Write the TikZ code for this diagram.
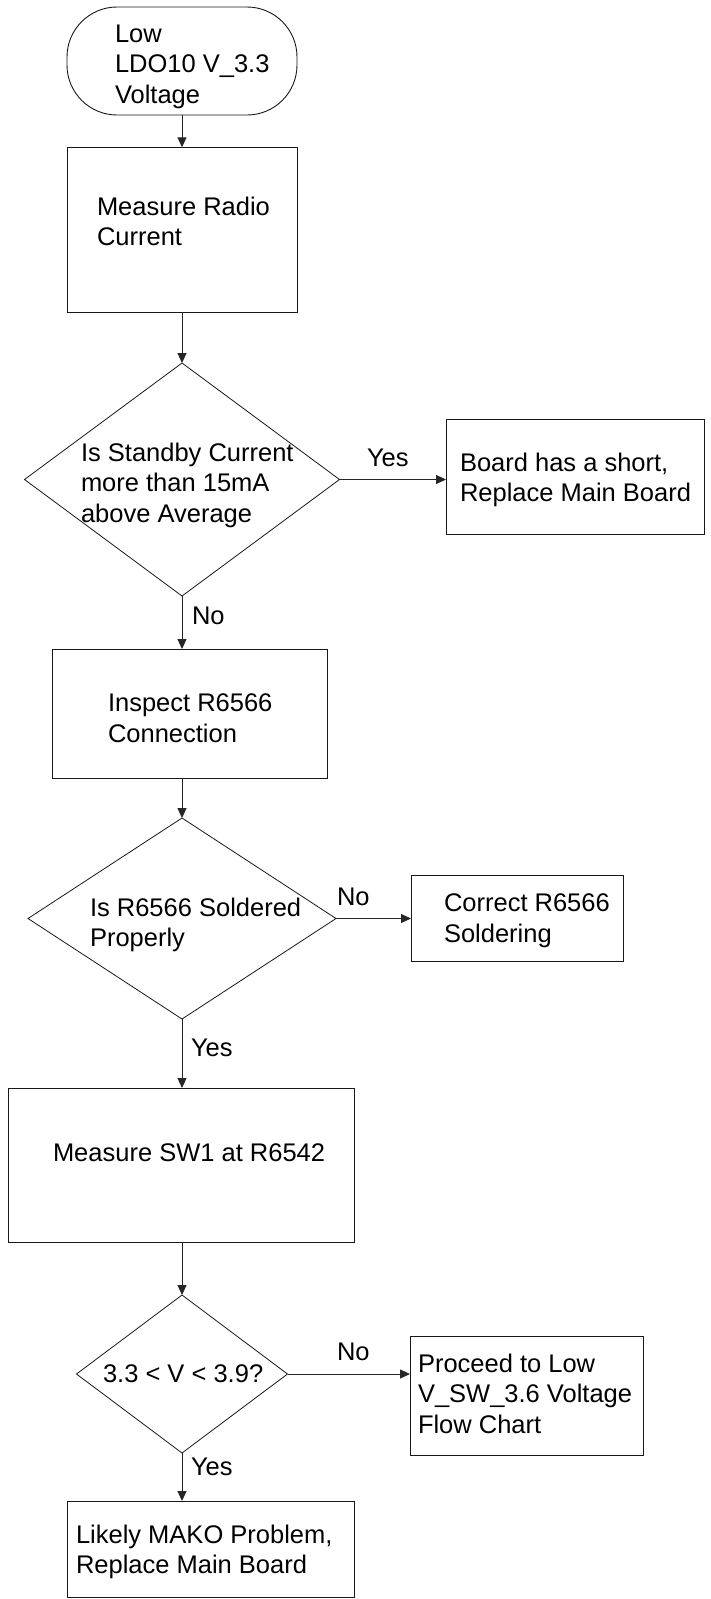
\documentclass[tikz,border=0pt]{standalone}
\usepackage{fontspec}
\setmainfont{Liberation Sans}
\usetikzlibrary{shapes.geometric,arrows.meta}
\newcommand{\fcfont}{\fontsize{25.5pt}{30.5pt}\selectfont}
\begin{document}
\begin{tikzpicture}[x=1pt,y=-1pt,
  box/.style={draw=black!90, line width=1pt, rectangle, inner sep=0pt, outer sep=0pt},
  term/.style={draw=black!90, line width=0.9pt, rectangle, rounded corners=50pt, inner sep=0pt, outer sep=0pt},
  dec/.style={draw=black!90, line width=0.8pt, diamond, inner sep=0pt, outer sep=0pt},
  txt/.style={anchor=north west, inner sep=0pt, outer sep=0pt, align=left, font=\fcfont},
  lbl/.style={anchor=north west, inner sep=0pt, outer sep=0pt, font=\fcfont},
  arr/.style={draw=black!85, line width=0.9pt, -{Triangle[length=10pt,width=9pt]}}]
\fill[white] (0,0) rectangle (710,1599);
\useasboundingbox (0,0) rectangle (710,1599);

% shapes
\node[term, minimum width=230pt, minimum height=108pt] (start) at (182,61) {};
\node[box, minimum width=230pt, minimum height=165pt] (b1) at (182,229.8) {};
\node[dec, minimum width=315pt, minimum height=233pt] (d1) at (182,479.5) {};
\node[box, minimum width=258pt, minimum height=115pt] (byes) at (575,476.5) {};
\node[box, minimum width=275pt, minimum height=129pt] (b2) at (189.5,713.5) {};
\node[dec, minimum width=308pt, minimum height=201pt] (d2) at (182,918.5) {};
\node[box, minimum width=212pt, minimum height=86pt] (bcor) at (517,918) {};
\node[box, minimum width=346pt, minimum height=154pt] (b3) at (181,1165) {};
\node[dec, minimum width=211pt, minimum height=158pt] (d3) at (182,1374) {};
\node[box, minimum width=233pt, minimum height=119pt] (bpro) at (526.5,1395.5) {};
\node[box, minimum width=287pt, minimum height=96pt] (bbot) at (210.5,1549) {};

% texts
\node[txt] (tstart) at (115,24.7) {Low\\LDO10 V\_3.3\\Voltage};
\node[txt] (tb1) at (97,197) {Measure Radio\\Current};
\node[txt] (td1) at (81,442.7) {Is Standby Current\\more than 15mA\\above Average};
\node[txt] (tbyes) at (460,452.7) {Board has a short,\\Replace Main Board};
\node[txt] (tb2) at (108,693.7) {Inspect R6566\\Connection};
\node[txt] (td2) at (90,897.7) {Is R6566 Soldered\\Properly};
\node[txt] (tbcor) at (444,893.7) {Correct R6566\\Soldering};
\node[txt] (tb3) at (53,1143.7) {Measure SW1 at R6542};
\node[txt] (td3) at (103,1364.7) {3.3 < V < 3.9?};
\node[txt] (tbpro) at (418,1353.7) {Proceed to Low\\V\_SW\_3.6 Voltage\\Flow Chart};
\node[txt] (tbbot) at (76,1524.7) {Likely MAKO Problem,\\Replace Main Board};

% labels
\node[lbl] (lyes1) at (367,448.7) {Yes};
\node[lbl] (lno1) at (192,606.7) {No};
\node[lbl] (lno2) at (337,887.7) {No};
\node[lbl] (lyes2) at (191,1038.7) {Yes};
\node[lbl] (lno3) at (337,1342.7) {No};
\node[lbl] (lyes3) at (191,1457.7) {Yes};

% connectors
\draw[arr] (start.south) -- (b1.north);
\draw[arr] (b1.south) -- (d1.north);
\draw[arr] (d1.east) -- (d1.east -| byes.west);
\draw[arr] (d1.south) -- (d1.south |- b2.north);
\draw[arr] (d2.north |- b2.south) -- (d2.north);
\draw[arr] (d2.east) -- (d2.east -| bcor.west);
\draw[arr] (d2.south) -- (d2.south |- b3.north);
\draw[arr] (d3.north |- b3.south) -- (d3.north);
\draw[arr] (d3.east) -- (d3.east -| bpro.west);
\draw[arr] (d3.south) -- (d3.south |- bbot.north);
\end{tikzpicture}
\end{document}
